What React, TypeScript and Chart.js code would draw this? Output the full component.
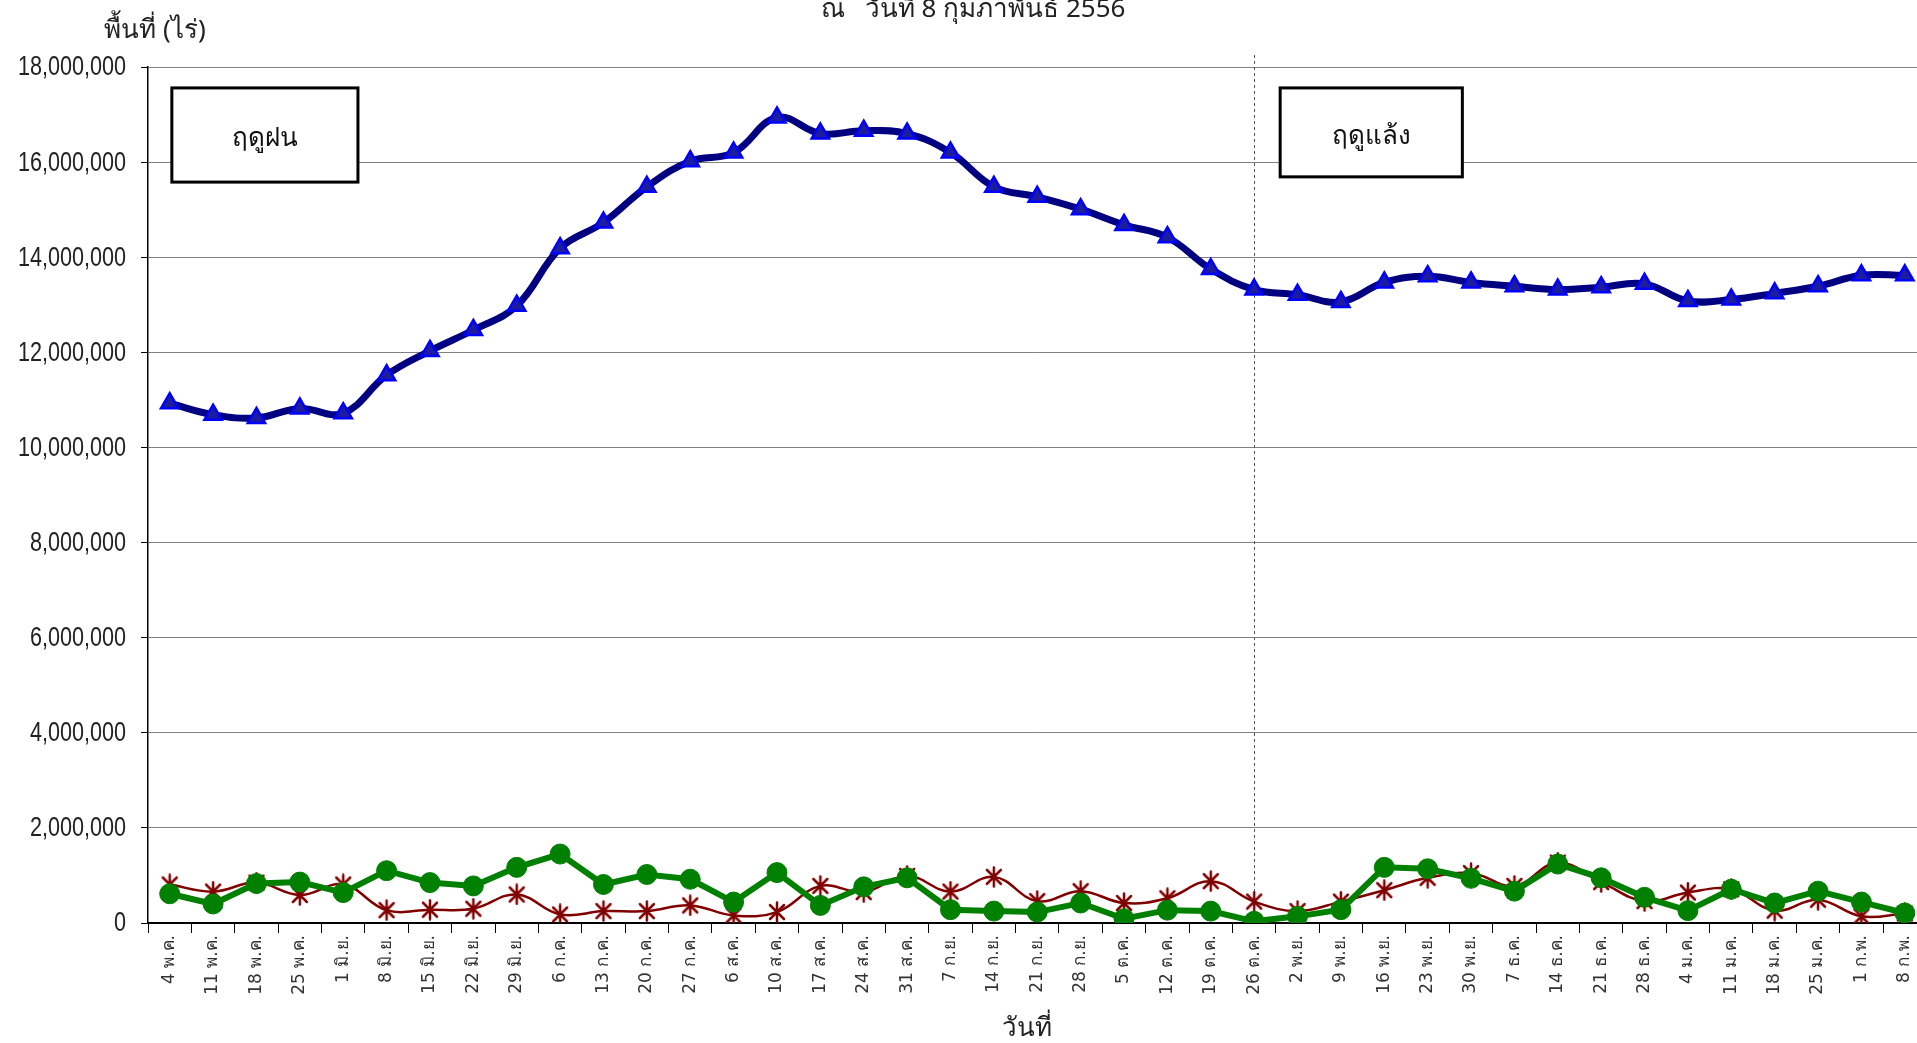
import { useEffect, useRef } from 'react';
import { Chart, registerables } from 'chart.js';
Chart.register(...registerables);

const categories = [
  '4 พ.ค.', '11 พ.ค.', '18 พ.ค.', '25 พ.ค.', '1 มิ.ย.', '8 มิ.ย.', '15 มิ.ย.', '22 มิ.ย.', '29 มิ.ย.',
  '6 ก.ค.', '13 ก.ค.', '20 ก.ค.', '27 ก.ค.', '6 ส.ค.', '10 ส.ค.', '17 ส.ค.', '24 ส.ค.', '31 ส.ค.',
  '7 ก.ย.', '14 ก.ย.', '21 ก.ย.', '28 ก.ย.', '5 ต.ค.', '12 ต.ค.', '19 ต.ค.', '26 ต.ค.',
  '2 พ.ย.', '9 พ.ย.', '16 พ.ย.', '23 พ.ย.', '30 พ.ย.', '7 ธ.ค.', '14 ธ.ค.', '21 ธ.ค.', '28 ธ.ค.',
  '4 ม.ค.', '11 ม.ค.', '18 ม.ค.', '25 ม.ค.', '1 ก.พ.', '8 ก.พ.',
];

const totalArea = [
  10930000, 10690000, 10620000, 10820000, 10720000, 11520000, 12030000, 12470000, 12980000,
  14190000, 14730000, 15480000, 16020000, 16200000, 16940000, 16600000, 16660000, 16600000,
  16200000, 15480000, 15270000, 15010000, 14680000, 14420000, 13750000, 13320000,
  13210000, 13060000, 13470000, 13600000, 13470000, 13390000, 13320000, 13370000, 13440000,
  13080000, 13110000, 13240000, 13390000, 13620000, 13620000,
];

const greenArea = [
  615000, 400000, 830000, 860000, 640000, 1100000, 850000, 780000, 1170000,
  1450000, 810000, 1020000, 920000, 440000, 1060000, 370000, 760000, 950000,
  280000, 250000, 230000, 420000, 90000, 270000, 250000, 35000,
  140000, 280000, 1170000, 1140000, 940000, 670000, 1240000, 950000, 540000,
  260000, 710000, 420000, 670000, 440000, 210000,
];

const redArea = [
  810000, 660000, 850000, 590000, 810000, 270000, 280000, 300000, 600000,
  180000, 250000, 250000, 370000, 160000, 230000, 780000, 650000, 990000,
  660000, 970000, 460000, 670000, 420000, 520000, 880000, 450000,
  250000, 450000, 690000, 950000, 1050000, 780000, 1270000, 860000, 460000,
  640000, 710000, 260000, 490000, 140000, 200000,
];

const yMax = 18000000;
const yStep = 2000000;

const titleText = 'ณ   วันที่ 8 กุมภาพันธ์ 2556';
const yTitleText = 'พื้นที่ (ไร่)';
const xTitleText = 'วันที่';
const seasonRain = 'ฤดูฝน';
const seasonDry = 'ฤดูแล้ง';
const dividerIndex = 25;

const THAI_FONT = '"Noto Sans", sans-serif';
const NUM_FONT = '"Liberation Sans", sans-serif';
const TICK_FONT = '"DejaVu Sans", sans-serif';

function makeStar(): HTMLCanvasElement {
  const c = document.createElement('canvas');
  c.width = 22; c.height = 22;
  const g = c.getContext('2d')!;
  g.strokeStyle = '#800000';
  g.lineWidth = 2.5;
  g.lineCap = 'round';
  g.beginPath();
  g.moveTo(4, 4); g.lineTo(18, 18);
  g.moveTo(18, 4); g.lineTo(4, 18);
  g.moveTo(11, 1.5); g.lineTo(11, 20.5);
  g.stroke();
  return c;
}

export default function App() {
  const ref = useRef<HTMLCanvasElement | null>(null);
  useEffect(() => {
    if (!ref.current) return;
    const star = makeStar();
    const overlay = {
      id: 'overlay',
      beforeDatasetsDraw(chart: any) {
        const ctx = chart.ctx;
        const x = chart.scales.x.getPixelForValue(dividerIndex);
        ctx.save();
        ctx.strokeStyle = '#555';
        ctx.lineWidth = 1;
        ctx.setLineDash([3, 3]);
        ctx.beginPath();
        ctx.moveTo(Math.round(x) + 0.5, 55);
        ctx.lineTo(Math.round(x) + 0.5, chart.chartArea.bottom);
        ctx.stroke();
        ctx.restore();
      },
      afterDatasetsDraw(chart: any) {
        const ctx = chart.ctx;
        const xs = chart.scales.x;
        const ys = chart.scales.y;
        const box = (i0: number, i1: number, v0: number, v1: number, t: string) => {
          const x0 = xs.getPixelForValue(i0);
          const x1 = xs.getPixelForValue(i1);
          const y0 = ys.getPixelForValue(v0);
          const y1 = ys.getPixelForValue(v1);
          ctx.save();
          ctx.fillStyle = '#fff';
          ctx.fillRect(x0, y0, x1 - x0, y1 - y0);
          ctx.strokeStyle = '#000';
          ctx.lineWidth = 3;
          ctx.strokeRect(x0, y0, x1 - x0, y1 - y0);
          ctx.fillStyle = '#111';
          ctx.font = `26px ${THAI_FONT}`;
          ctx.textAlign = 'center';
          ctx.textBaseline = 'middle';
          ctx.fillText(t, (x0 + x1) / 2, (y0 + y1) / 2 + 4);
          ctx.restore();
        };
        box(0.05, 4.34, 17560000, 15580000, seasonRain);
        box(25.6, 29.8, 17560000, 15690000, seasonDry);
      },
      afterDraw(chart: any) {
        const ctx = chart.ctx;
        const ys = chart.scales.y;
        ctx.save();
        ctx.fillStyle = '#222';
        ctx.font = `27px ${NUM_FONT}`;
        ctx.textAlign = 'right';
        ctx.textBaseline = 'middle';
        ys.ticks.forEach((t: any) => {
          const y = ys.getPixelForValue(t.value);
          ctx.save();
          ctx.translate(126, y + 1);
          ctx.scale(0.8, 1);
          ctx.fillText(Number(t.value).toLocaleString('en-US'), 0, 0);
          ctx.restore();
        });
        ctx.font = `26px ${THAI_FONT}`;
        ctx.textAlign = 'center';
        ctx.textBaseline = 'alphabetic';
        ctx.fillText(titleText, 973, 17);
        ctx.fillText(yTitleText, 155, 38);
        ctx.fillText(xTitleText, 1027, 1036);
        ctx.restore();
      },
    };
    const chart = new Chart(ref.current, {
      type: 'line',
      data: {
        labels: categories,
        datasets: [
          {
            label: 'พื้นที่รวม',
            data: totalArea,
            borderColor: '#000080',
            borderWidth: 7,
            tension: 0.4,
            pointStyle: 'triangle',
            pointRadius: 10,
            pointBackgroundColor: '#1c1c9c',
            pointBorderColor: '#0000ff',
            pointBorderWidth: 2.5,
          },
          {
            label: 'ชุดที่ 2',
            data: greenArea,
            borderColor: '#008000',
            borderWidth: 6,
            tension: 0,
            pointStyle: 'circle',
            pointRadius: 10,
            pointBackgroundColor: '#008000',
            pointBorderColor: '#008000',
            pointBorderWidth: 1,
          },
          {
            label: 'ชุดที่ 3',
            data: redArea,
            borderColor: '#800000',
            borderWidth: 2.5,
            tension: 0.4,
            pointStyle: star as any,
            pointRadius: 9,
          },
        ],
      },
      options: {
        animation: false,
        responsive: false,
        devicePixelRatio: 1,
        layout: { padding: { top: 67, left: 0, right: 0, bottom: 0 } },
        plugins: { legend: { display: false }, tooltip: { enabled: false }, title: { display: false } },
        scales: {
          x: {
            offset: true,
            grid: { display: true, drawOnChartArea: false, drawTicks: true, tickLength: 10, offset: true, color: '#000', tickColor: '#000' },
            border: { color: '#000', width: 2 },
            ticks: {
              autoSkip: false, maxRotation: 90, minRotation: 90, padding: 2,
              color: '#333', font: { family: TICK_FONT, size: 17 },
            },
            afterFit(scale: any) { scale.height = 120; },
          },
          y: {
            min: 0, max: yMax,
            grid: { color: '#808080', lineWidth: 1, tickLength: 7, tickColor: '#000' },
            border: { color: '#000', width: 1.5 },
            ticks: { stepSize: yStep, display: false },
            afterFit(scale: any) { scale.width = 148; },
          },
        },
      },
      plugins: [overlay],
    });
    return () => chart.destroy();
  }, []);
  return (
    <div style={{ position: 'fixed', left: 0, top: 0, width: 1917, height: 1043, overflow: 'hidden', background: '#fff' }}>
      <canvas ref={ref} width={1939} height={1043} style={{ display: 'block' }} />
    </div>
  );
}
